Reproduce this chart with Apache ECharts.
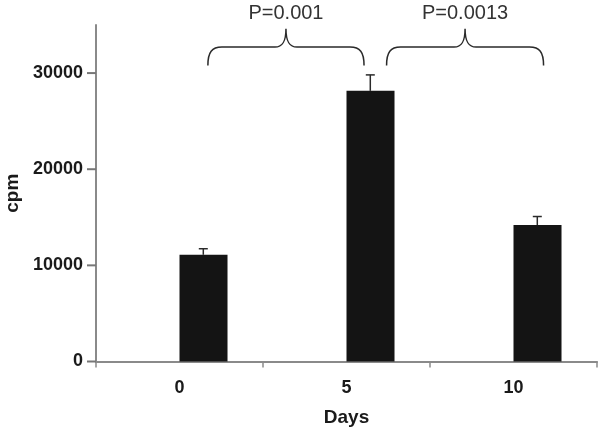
<!DOCTYPE html>
<html>
<head>
<meta charset="utf-8">
<script src="https://cdn.jsdelivr.net/npm/echarts@6/dist/echarts.min.js"></script>
<style>
html,body{margin:0;padding:0;background:#fff;}
#c{width:601px;height:429px;}
</style>
</head>
<body>
<div id="c"></div>
<script>
// ---- data ----
const categories = ['0', '5', '10'];
const baseline = [0, 0, 0];
const cpm = [11100, 28150, 14200];
const errUp = [630, 1660, 880];
const yTicks = [0, 10000, 20000, 30000];
// braces: positions in category units, levels in cpm units
const braceFrom = [0.17, 1.24];
const braceTo = [1.105, 2.18];
const braceLabels = ['P=0.001', 'P=0.0013'];
const braceBottom = 30800;
const braceShoulder = 32700;
const bracePeak = 34600;
const braceText = 36200;

const FONT = '"Liberation Sans", Arial, sans-serif';
const BAR_OFFSET = 0.1425; // fraction of band: centre of 2nd bar in group
const AXIS_GREY = '#8a8a8a';

const chart = echarts.init(document.getElementById('c'), null, {renderer: 'canvas'});

const option = {
  animation: false,
  backgroundColor: '#fff',
  grid: {left: 96, right: 4, top: 25, bottom: 67.5, containLabel: false, outerBoundsMode: 'none'},
  xAxis: {
    type: 'category',
    data: categories,
    name: 'Days',
    nameLocation: 'middle',
    nameGap: 47,
    nameTextStyle: {fontFamily: FONT, fontWeight: 'bold', fontSize: 19, color: '#1a1a1a'},
    axisLine: {lineStyle: {color: AXIS_GREY, width: 2}},
    axisTick: {show: true, length: 6, lineStyle: {color: AXIS_GREY, width: 1.5}},
    axisLabel: {fontFamily: FONT, fontWeight: 'bold', fontSize: 18, color: '#1a1a1a', margin: 18},
    splitLine: {show: false}
  },
  yAxis: {
    type: 'value',
    min: 0, max: 35000, interval: 10000,
    name: 'cpm',
    nameLocation: 'middle',
    nameRotate: 90,
    nameGap: 68,
    nameTextStyle: {fontFamily: FONT, fontWeight: 'bold', fontSize: 19, color: '#1a1a1a'},
    axisLine: {show: true, lineStyle: {color: AXIS_GREY, width: 2}},
    axisTick: {show: false},
    axisLabel: {fontFamily: FONT, fontWeight: 'bold', fontSize: 18, color: '#1a1a1a', margin: 13,
      showMaxLabel: false, formatter: function (v) { return yTicks.indexOf(v) >= 0 ? String(v) : ''; }},
    splitLine: {show: false}
  },
  series: [
    {
      type: 'bar', data: baseline, barGap: '0%', barCategoryGap: '42.5%',
      itemStyle: {color: '#666'}, silent: true
    },
    {
      type: 'bar', data: cpm, barGap: '0%', barCategoryGap: '42.5%',
      itemStyle: {color: '#141414'}
    },
    {
      // y-axis tick marks at the tick values
      type: 'custom',
      data: yTicks.map(v => [0, v]),
      encode: {x: 0, y: 1},
      z: 6,
      clip: false,
      renderItem: function (params, api) {
        const band = api.size([1, 0])[0];
        const p = api.coord([0, api.value(1)]);
        const ax = p[0] - band / 2;
        return {type: 'line', shape: {x1: ax - 9, y1: p[1], x2: ax, y2: p[1]},
          style: {stroke: '#777', lineWidth: 2}};
      }
    },
    {
      type: 'custom',
      data: cpm.map((v, i) => [i, v, errUp[i]]),
      encode: {x: 0, y: 1},
      z: 5,
      renderItem: function (params, api) {
        const i = api.value(0), v = api.value(1), e = api.value(2);
        const band = api.size([1, 0])[0];
        const p0 = api.coord([i, v]);
        const p1 = api.coord([i, v + e]);
        const x = p0[0] + band * BAR_OFFSET;
        const st = {stroke: '#2a2a2a', lineWidth: 1.5};
        return {type: 'group', children: [
          {type: 'line', shape: {x1: x, y1: p0[1], x2: x, y2: p1[1]}, style: st},
          {type: 'line', shape: {x1: x - 4.5, y1: p1[1], x2: x + 4.5, y2: p1[1]}, style: st}
        ]};
      }
    },
    {
      type: 'custom',
      data: braceFrom.map((f, k) => [f, braceBottom, braceTo[k]]),
      encode: {x: 0, y: 1},
      z: 5,
      clip: false,
      renderItem: function (params, api) {
        const k = params.dataIndex;
        const band = api.size([1, 0])[0];
        const c0 = api.coord([0, braceBottom])[0];
        const x1 = c0 + braceFrom[k] * band;
        const x2 = c0 + braceTo[k] * band;
        const xm = (x1 + x2) / 2;
        const yb = api.coord([0, braceBottom])[1];
        const yh = api.coord([0, braceShoulder])[1];
        const yp = api.coord([0, bracePeak])[1];
        const yt = api.coord([0, braceText])[1];
        const re = 14, rm = 11;
        const d =
          'M' + x1 + ' ' + yb +
          ' C' + x1 + ' ' + (yh + 5) + ' ' + (x1 + 4) + ' ' + yh + ' ' + (x1 + re) + ' ' + yh +
          ' L' + (xm - rm) + ' ' + yh +
          ' C' + (xm - 3) + ' ' + yh + ' ' + xm + ' ' + (yh - 6) + ' ' + xm + ' ' + yp +
          ' C' + xm + ' ' + (yh - 6) + ' ' + (xm + 3) + ' ' + yh + ' ' + (xm + rm) + ' ' + yh +
          ' L' + (x2 - re) + ' ' + yh +
          ' C' + (x2 - 4) + ' ' + yh + ' ' + x2 + ' ' + (yh + 5) + ' ' + x2 + ' ' + yb;
        return {type: 'group', children: [
          {type: 'path', shape: {pathData: d}, style: {stroke: '#2a2a2a', fill: null, lineWidth: 1.5}},
          {type: 'text', style: {text: braceLabels[k], x: xm, y: yt, align: 'center', verticalAlign: 'middle',
            fontFamily: FONT, fontSize: 20, fill: '#333'}}
        ]};
      }
    }
  ]
};
chart.setOption(option);
</script>
</body>
</html>
